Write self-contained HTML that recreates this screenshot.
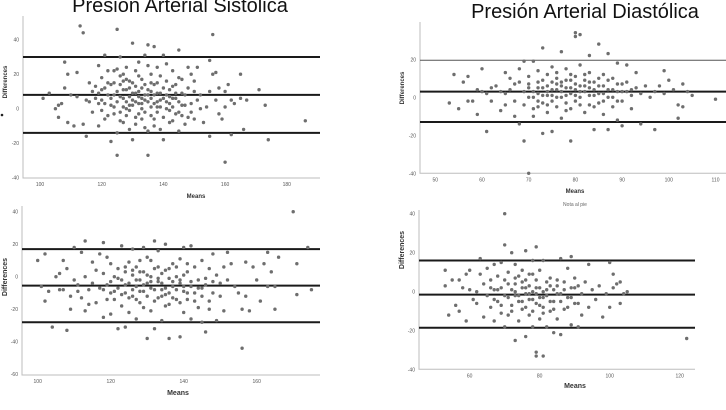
<!DOCTYPE html>
<html><head><meta charset="utf-8"><style>
html,body{margin:0;padding:0;background:#fff;}
body{width:726px;height:405px;overflow:hidden;font-family:"Liberation Sans",sans-serif;}
</style></head><body>
<svg id="chart" width="726" height="405" xmlns="http://www.w3.org/2000/svg">
<text x="180" y="12" font-size="20" text-anchor="middle" fill="#111">Presión Arterial Sistólica</text>
<text x="585" y="18" font-size="20" text-anchor="middle" fill="#111">Presión Arterial Diastólica</text>
<text x="575" y="206" font-size="5" text-anchor="middle" fill="#666">Nota al pie</text>
<circle cx="2" cy="115" r="1.3" fill="#222"/>
</svg>
<script>
const pts1=[[101,6],[103,9],[105,0],[106,-5],[106,2],[107,3],[108,27],[108,12],[109,20],[109,-8],[110,8],[111,-10],[112,21],[112,7],[113,48],[114,44],[114,-9],[115,-16],[115,5],[116,15],[116,4],[117,10],[117,-2],[118,6],[119,25],[119,-10],[119,9],[120,18],[120,5],[120,-1],[121,31],[121,12],[121,3],[122,-4],[122,22],[122,8],[123,2],[123,-19],[123,14],[124,15],[124,8],[124,1],[125,23],[125,-14],[125,10],[125,46],[125,-27],[126,30],[126,-2],[126,14],[126,7],[127,6],[127,20],[127,-8],[127,11],[128,0],[128,11],[128,4],[128,17],[129,-12],[129,16],[129,7],[129,2],[130,38],[130,2],[130,-18],[130,9],[131,22],[131,9],[131,-5],[131,4],[132,3],[132,27],[132,-3],[132,10],[133,12],[133,17],[133,0],[133,6],[134,5],[134,-11],[134,31],[134,8],[135,8],[135,37],[135,-13],[135,-27],[135,4],[136,1],[136,20],[136,10],[136,6],[137,-6],[137,36],[137,14],[137,3],[138,4],[138,-2],[138,24],[138,9],[139,-12],[139,9],[139,1],[140,31],[140,-18],[140,6],[141,0],[141,16],[141,8],[142,3],[142,11],[142,-1],[143,-7],[143,22],[143,6],[144,-3],[144,6],[144,14],[145,-13],[145,34],[145,4],[146,2],[146,17],[146,-4],[147,-9],[147,8],[148,24],[148,-5],[149,20],[149,3],[150,10],[150,-6],[151,5],[151,24],[152,0],[153,-8],[154,1],[155,28],[155,-16],[155,10],[156,43],[156,20],[157,21],[157,5],[158,12],[158,-3],[159,-6],[160,10],[160,-31],[160,1],[161,14],[162,-15],[162,5],[163,3],[165,20],[165,6],[166,-12],[167,5],[171,11],[173,2],[174,-18],[186,-7],
[118,13],[119,3],[120,11],[121,-6],[122,15],[123,6],[124,-3],[124,22],[125,4],[126,19],[126,-7],[127,1],[127,16],[128,-4],[128,24],[129,12],[129,-1],[130,5],[130,15],[131,-9],[131,13],[132,7],[132,19],[133,-6],[133,3],[134,14],[134,-2],[135,11],[135,25],[136,-4],[136,15],[137,8],[137,-10],[138,15],[138,1],[139,5],[139,19],[140,-5],[140,12],[141,4],[141,26],[142,-8],[142,7],[143,13],[143,1],[144,9],[145,-2],[145,18],[146,9],[147,2],[148,12],[149,-2],[150,16],[152,8]];
const pts2=[[53,-3],[54,12],[55,-6],[56,8],[57,11],[57,-2],[58,-2],[59,4],[59,-9],[60,15],[60,3],[61,-18],[61,2],[62,5],[62,-2],[63,6],[64,3],[64,-7],[65,13],[65,2],[65,-4],[66,10],[66,4],[67,-10],[67,-2],[67,7],[68,8],[68,-14],[68,15],[69,-4],[69,3],[69,-23],[69,19],[70,11],[70,-40],[70,0],[70,5],[71,-6],[71,19],[71,3],[71,-10],[72,2],[72,8],[72,-2],[72,14],[73,26],[73,5],[73,-19],[73,-3],[74,1],[74,12],[74,-8],[74,6],[75,4],[75,-2],[75,16],[75,-18],[76,7],[76,0],[76,10],[76,-5],[77,24],[77,3],[77,-11],[77,8],[78,5],[78,-3],[78,15],[78,1],[79,-23],[79,9],[79,2],[79,-6],[80,34],[80,32],[80,4],[80,-2],[80,11],[81,33],[81,6],[81,0],[81,17],[82,-8],[82,3],[82,9],[83,22],[83,-4],[83,5],[83,13],[84,-17],[84,1],[84,8],[85,28],[85,-3],[85,6],[86,12],[86,-9],[86,2],[87,23],[87,4],[87,-17],[88,0],[88,10],[88,-5],[89,18],[89,3],[89,-12],[90,7],[90,-2],[90,-15],[91,17],[91,3],[92,1],[92,-6],[93,13],[93,5],[94,-14],[94,2],[95,6],[96,0],[97,3],[97,-17],[98,6],[99,14],[99,2],[100,9],[101,4],[102,-11],[102,-4],[103,7],[103,-5],[104,3],[105,1],[110,-1],
[70,7],[71,0],[72,5],[72,-5],[73,9],[73,1],[74,3],[74,-4],[75,8],[75,1],[76,4],[76,13],[77,0],[77,6],[78,9],[78,-7],[79,5],[79,12],[80,7],[80,1],[81,3],[81,-4],[82,6],[82,12],[83,1],[83,8],[84,4],[84,-5],[85,10],[85,2],[86,6],[86,-2],[87,9],[87,0],[88,4],[89,7],[89,-2],[90,3],[91,8],[92,4]];
const pts3=[[100,10],[101,-6],[102,14],[102,-15],[103,-9],[104,-31],[105,0],[106,2],[106,-8],[107,10],[107,-8],[108,5],[108,-33],[109,-20],[109,-12],[110,18],[110,-2],[111,-5],[111,-9],[112,15],[112,-13],[113,22],[113,0],[113,-21],[114,-8],[114,-17],[115,9],[115,-4],[116,4],[116,-16],[117,14],[117,-7],[118,21],[118,-25],[118,2],[119,-5],[119,12],[120,-10],[120,-23],[120,8],[121,0],[121,-14],[122,5],[122,-32],[122,-7],[123,19],[123,-2],[123,-18],[124,-31],[124,3],[124,-10],[125,9],[125,-22],[125,-4],[126,17],[126,1],[126,-12],[127,-26],[127,6],[127,-6],[128,10],[128,-2],[128,-16],[129,18],[129,-9],[129,3],[130,-38],[130,-4],[130,12],[131,0],[131,-21],[131,-7],[132,22],[132,-32],[132,5],[133,-13],[133,16],[133,-3],[134,2],[134,-27],[134,-8],[135,20],[135,-11],[135,4],[136,-38],[136,-1],[136,-17],[137,8],[137,-6],[138,-14],[138,0],[139,-37],[139,11],[139,-4],[140,18],[140,-22],[140,-9],[141,3],[141,-14],[142,19],[142,-6],[142,-26],[143,6],[143,-10],[144,-2],[144,-19],[145,10],[145,-28],[145,-7],[146,-1],[146,-34],[147,5],[147,-15],[148,14],[148,-10],[149,-27],[149,1],[150,-12],[150,-4],[151,6],[151,-21],[152,15],[152,-2],[153,8],[154,-6],[155,-10],[156,-44],[156,-20],[157,9],[157,-12],[158,-21],[159,6],[160,-2],[161,-15],[162,8],[163,-6],[163,15],[164,3],[165,-20],[165,-6],[166,12],[170,40],[171,8],[171,-11],[174,18],[175,-8],
[118,-8],[119,-14],[120,-3],[121,-9],[122,-1],[123,-11],[124,-5],[124,6],[125,-13],[126,-8],[126,4],[127,-2],[127,-14],[128,-9],[128,3],[129,-5],[129,-19],[130,-12],[130,1],[131,-3],[131,10],[132,-8],[132,-15],[133,-1],[133,6],[134,-12],[134,-4],[135,-7],[135,-18],[136,5],[136,-10],[137,-3],[137,-13],[138,-8],[138,6],[139,-2],[139,-16],[140,1],[140,-6],[141,-10],[141,8],[142,-3],[143,-15],[144,-7],[145,-12],[146,-5],[147,-20],[148,-3]];
const pts4=[[53,11],[53,3],[54,-12],[55,6],[56,-7],[57,6],[57,-10],[58,2],[59,9],[59,-15],[60,11],[60,1],[61,-4],[62,0],[62,-6],[63,9],[63,17],[64,4],[64,-13],[65,12],[65,-2],[66,6],[66,-8],[67,14],[67,1],[67,-15],[68,8],[68,-5],[69,15],[69,2],[69,-11],[70,40],[70,24],[70,-18],[70,6],[71,-3],[71,10],[71,-12],[72,20],[72,1],[72,-7],[73,-25],[73,4],[73,14],[73,-2],[74,-15],[74,8],[74,-5],[75,2],[75,11],[75,-9],[76,-1],[76,21],[76,-23],[76,6],[77,3],[77,-12],[77,-4],[78,16],[78,0],[78,-18],[78,9],[79,23],[79,-31],[79,-33],[79,-6],[79,2],[80,-3],[80,11],[80,-14],[81,-33],[81,16],[81,0],[81,-8],[82,5],[82,-18],[82,-2],[83,7],[83,-10],[84,1],[84,-21],[84,-5],[85,3],[85,-14],[86,17],[86,-22],[86,-1],[87,5],[87,-9],[88,12],[88,-3],[89,18],[89,-17],[89,2],[90,7],[90,-6],[91,-18],[91,3],[92,-12],[92,-1],[93,5],[94,-8],[94,14],[95,1],[96,-4],[97,3],[98,-13],[99,-1],[100,15],[100,-8],[101,2],[101,9],[102,4],[103,-6],[103,5],[104,-1],[105,0],[122,-24],
[66,2],[67,-4],[68,1],[69,-7],[70,-2],[71,4],[72,-10],[73,0],[73,7],[74,-2],[75,-5],[75,5],[76,-8],[76,2],[77,-1],[77,9],[78,-4],[78,-10],[79,-1],[79,6],[80,-7],[80,2],[81,-3],[81,-11],[82,1],[83,-5],[83,3],[84,-9],[85,-1],[85,6],[86,-5],[87,1],[88,-8],[89,-3],[90,2],[91,-6]];
const lim1=[30,8,-14], lim2=[19.5,3,-13], lim3=[17,-5.5,-28], lim4=[16,-1.5,-18.5];
const xt1=[100,120,140,160,180], yt1=[40,20,0,-20,-40];
const xt2=[50,60,70,80,90,100,110], yt2=[20,0,-20,-40];
const xt3=[100,120,140,160], yt3=[40,20,0,-20,-40,-60];
const xt4=[60,80,100,120], yt4=[40,20,0,-20,-40];

const NS='http://www.w3.org/2000/svg';
const svg=document.getElementById('chart');
function mk(tag,attrs,parent){const e=document.createElementNS(NS,tag);for(const k in attrs)e.setAttribute(k,attrs[k]);(parent||svg).appendChild(e);return e;}
function panel(cfg){
  const g=mk('g',{});
  
  
  const X=v=>cfg.x0+(v-cfg.xa)*cfg.xs, Y=v=>cfg.y0-(v-cfg.ya)*cfg.ys;
  const ax=mk('path',{d:`M${cfg.left} ${cfg.top}V${cfg.bottom}H${cfg.right}`,stroke:'#bdbdbd','stroke-width':1,fill:'none'},g);
  
  
  cfg.xt.forEach(t=>{const e=mk('text',{x:X(t),y:cfg.bottom+8,'font-size':5,'text-anchor':'middle',fill:'#555'},g);e.textContent=t;
    
    });
  cfg.yt.forEach(t=>{const e=mk('text',{x:cfg.left-4,y:Y(t)+2,'font-size':5,'text-anchor':'end',fill:'#555'},g);e.textContent=t;
    
    });
  cfg.lim.forEach((v,i)=>{const l=mk('line',{x1:cfg.left,x2:cfg.right,y1:Y(v),y2:Y(v),stroke:(cfg.thin&&i==0)?'#555':'#1a1a1a','stroke-width':(cfg.thin&&i==0)?1:2},g);
    
    });
  cfg.pts.forEach(p=>{const c=mk('circle',{cx:X(p[0]),cy:Y(p[1]),r:1.7,fill:'#6e6e6e'},g);
    
    });
  const mt=mk('text',{x:cfg.mx,y:cfg.my,'font-size':cfg.fs,'font-weight':'bold','text-anchor':'middle',fill:'#333'},g);mt.textContent='Means';
  
  
  const yt=mk('text',{x:0,y:0,'font-size':cfg.fs,'font-weight':'bold','text-anchor':'middle',fill:'#333',transform:`translate(${cfg.dx},${cfg.dy}) rotate(-90)`},g);yt.textContent='Differences';
  
  
}
panel({name:'panel-systolic-1',pts:pts1,lim:lim1,xt:xt1,yt:yt1,x0:40,xa:100,xs:61.7/20,y0:108.7,ya:0,ys:34.5/20,left:23,right:320,top:16,bottom:178,mx:196,my:198,dx:7,dy:82,fs:6});
panel({name:'panel-diastolic-1',pts:pts2,lim:lim2,xt:xt2,yt:yt2,x0:435.3,xa:50,xs:4.67,y0:97.3,ya:0,ys:38/20,left:420,right:726,top:22,bottom:173.3,mx:575,my:193,dx:404,dy:88,fs:6,thin:true});
panel({name:'panel-systolic-2',pts:pts3,lim:lim3,xt:xt3,yt:yt3,x0:37.7,xa:100,xs:73/20,y0:276.7,ya:0,ys:32.5/20,left:22,right:320,top:206,bottom:375,mx:178,my:395,dx:7,dy:277,fs:7});
panel({name:'panel-diastolic-2',pts:pts4,lim:lim4,xt:xt4,yt:yt4,x0:469.7,xa:60,xs:3.5,y0:291.7,ya:0,ys:39/20,left:419,right:695,top:210,bottom:369.3,mx:575,my:388,dx:404,dy:250,fs:7});
</script>
</body></html>
